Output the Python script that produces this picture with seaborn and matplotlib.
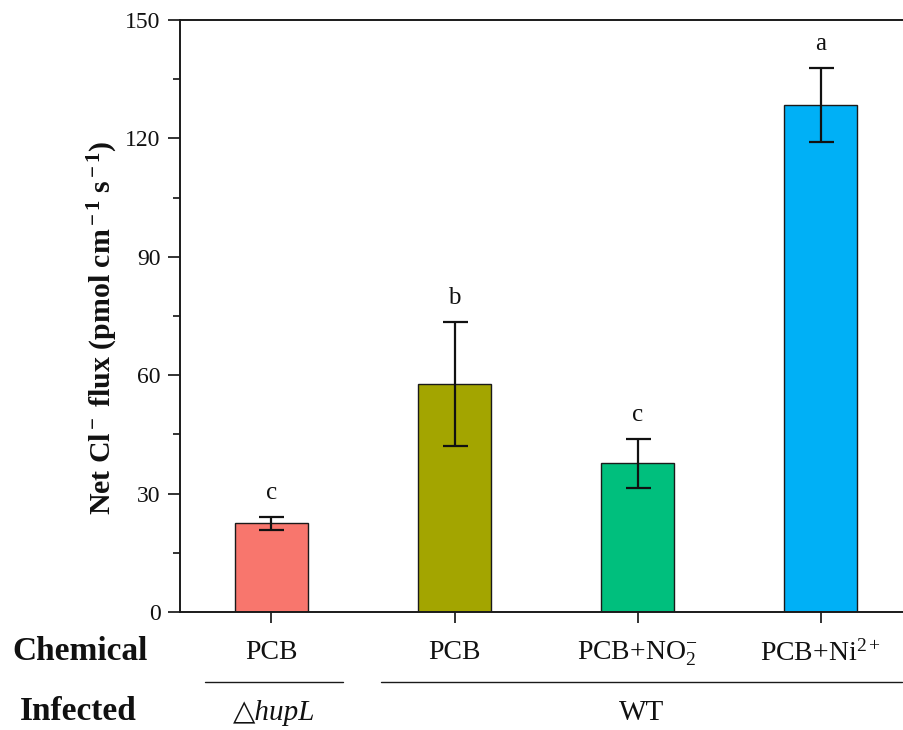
import matplotlib
matplotlib.use("Agg")
import matplotlib.pyplot as plt
import seaborn as sns
import pandas as pd
import numpy as np

categories = ["PCB_d", "PCB", "PCB+NO2", "PCB+Ni"]
tick_labels = ["PCB", "PCB", r"PCB+NO$_2^{-}$", r"PCB+Ni$^{2+}$"]
means = [22.5, 57.8, 37.7, 128.4]
errors = [1.7, 15.7, 6.2, 9.4]
letters = ["c", "b", "c", "a"]
colors = ["#F8766D", "#A3A500", "#00BF7D", "#00B0F6"]
groups = ["\u25b3hupL", "WT"]

sns.set_theme(style="ticks")
plt.rcParams["font.family"] = ["Liberation Serif", "DejaVu Serif"]
plt.rcParams["mathtext.fontset"] = "custom"
plt.rcParams["mathtext.rm"] = "Liberation Serif"
plt.rcParams["mathtext.it"] = "Liberation Serif:italic"
plt.rcParams["mathtext.bf"] = "Liberation Serif:bold"
for k in ["text.color", "axes.labelcolor", "xtick.color", "ytick.color"]:
    plt.rcParams[k] = "#111111"

df = pd.DataFrame({"cat": categories, "val": means})

fig = plt.figure(figsize=(9.04, 7.3), dpi=100)
ax = fig.add_axes([0.199, 0.1616, 0.80, 0.811])

sns.barplot(data=df, x="cat", y="val", hue="cat", palette=colors, order=categories,
            width=0.40, edgecolor="#1a1a1a", linewidth=1.0, errorbar=None,
            legend=False, ax=ax, saturation=1)

x = np.arange(len(categories))
ax.errorbar(x, means, yerr=errors, fmt="none", ecolor="#111111", elinewidth=1.6,
            capsize=9, capthick=1.6)

for xi, m, e, l in zip(x, means, errors, letters):
    ax.text(xi, m + e + 4.5, l, ha="center", va="baseline", fontsize=18)

ax.set_xlim(-0.5, 3.45)
ax.set_ylim(0, 150)
ax.set_yticks([0, 30, 60, 90, 120, 150])
ax.set_yticks(np.arange(15, 150, 30), minor=True)
ax.set_xticks(x)
ax.set_xticklabels(tick_labels, fontsize=20)
ax.tick_params(axis="y", which="major", length=9, width=1.2, labelsize=17, direction="out", pad=5)
ax.tick_params(axis="y", which="minor", length=5, width=1.2, direction="out")
ax.tick_params(axis="x", which="major", length=8, width=1.2, direction="out", pad=12)
for s in ["left", "bottom", "top"]:
    ax.spines[s].set_linewidth(1.4)
    ax.spines[s].set_color("#1a1a1a")
ax.spines["right"].set_visible(False)
ax.set_xlabel("")
ax.set_ylabel(r"Net Cl$^{\bf -}$ flux (pmol cm$^{\bf -1}$ s$^{\bf -1}$)", fontsize=21.5,
              fontweight="bold")
ax.yaxis.set_label_coords((103 - 180) / 723, 0.481)
ax.yaxis.label.set_va("center")

# bottom annotation
fig.text(12 / 904, 1 - 651 / 730, "Chemical", fontsize=24, fontweight="bold", ha="left", va="center")
fig.text(20 / 904, 1 - 711 / 730, "Infected", fontsize=24, fontweight="bold", ha="left", va="center")
fig.add_artist(plt.Line2D([205 / 904, 343 / 904], [1 - 682 / 730] * 2, color="#1a1a1a", lw=1.0))
fig.add_artist(plt.Line2D([381 / 904, 902 / 904], [1 - 682 / 730] * 2, color="#1a1a1a", lw=1.0))
fig.text(274 / 904, 1 - 713 / 730, groups[0], fontsize=21, fontstyle="italic", ha="center", va="center",
         family=["Liberation Serif", "DejaVu Sans"])
fig.text(642 / 904, 1 - 713 / 730, groups[1], fontsize=21, ha="center", va="center")

fig.savefig("out.png", dpi=100)
